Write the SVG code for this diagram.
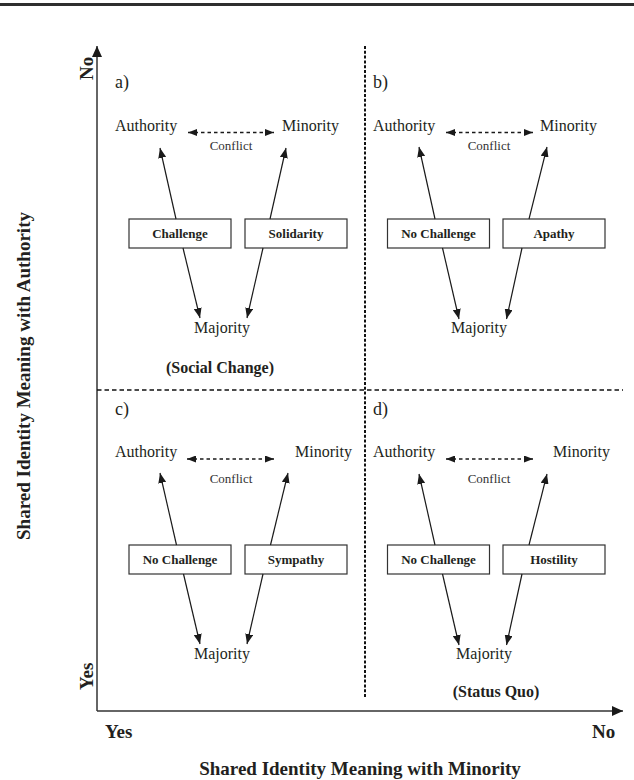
<svg xmlns="http://www.w3.org/2000/svg" width="634" height="780" viewBox="0 0 634 780">
<defs>
<marker id="ah" viewBox="0 0 10 8" refX="10" refY="4" markerWidth="10" markerHeight="8" markerUnits="userSpaceOnUse" orient="auto-start-reverse">
<path d="M0,0 L10,4 L0,8 Z" fill="#1a1a1a"/>
</marker>
<marker id="ahs" viewBox="0 0 9 7" refX="9" refY="3.5" markerWidth="9" markerHeight="7" markerUnits="userSpaceOnUse" orient="auto-start-reverse">
<path d="M0,0 L9,3.5 L0,7 Z" fill="#1a1a1a"/>
</marker>
<marker id="axh" viewBox="0 0 11 10" refX="11" refY="5" markerWidth="11" markerHeight="10" markerUnits="userSpaceOnUse" orient="auto">
<path d="M0,0 L11,5 L0,10 Z" fill="#1a1a1a"/>
</marker>
</defs>
<style>
text { font-family: "Liberation Serif", "Times New Roman", serif; fill: #231f20; }
.lab { font-size: 16px; }
.let { font-size: 18px; }
.con { font-size: 13px; fill: #333; }
.bx { font-size: 13px; font-weight: bold; text-anchor: middle; }
.bold16 { font-size: 16px; font-weight: bold; text-anchor: middle; }
.ax { font-size: 19px; font-weight: bold; }
.mid { text-anchor: middle; }
.box { fill: #fff; stroke: #333; stroke-width: 1.2; }
.arr { stroke: #1a1a1a; stroke-width: 1.2; fill: none; marker-end: url(#ah); }
.cf { stroke: #1a1a1a; stroke-width: 1.3; stroke-dasharray: 3.5 3; fill: none; marker-start: url(#ahs); marker-end: url(#ahs); }
.axis { stroke: #333; stroke-width: 1.5; fill: none; marker-end: url(#axh); }
.div { stroke: #111; fill: none; }
</style>
<rect x="0" y="3" width="634" height="3" fill="#2e2e2e"/>

<g id="axes">
<line class="axis" x1="97" y1="711" x2="97" y2="46"/>
<line class="axis" x1="97" y1="711" x2="623" y2="711"/>
<line class="div" x1="365" y1="46" x2="365" y2="698" stroke-width="2" stroke-dasharray="3 1.8"/>
<line class="div" x1="97" y1="390" x2="623" y2="390" stroke-width="1.5" stroke-dasharray="4.5 3"/>
<text class="ax" transform="translate(93,80) rotate(-90)">No</text>
<text class="ax" transform="translate(93,690) rotate(-90)">Yes</text>
<text class="ax mid" transform="translate(30,376) rotate(-90)">Shared Identity Meaning with Authority</text>
<text class="ax" x="105" y="738">Yes</text>
<text class="ax" x="592" y="738">No</text>
<text class="ax mid" x="360" y="775">Shared Identity Meaning with Minority</text>
</g>

<g id="quad-a">
<text class="let" x="115" y="88">a)</text>
<g id="a-authority"><text class="lab" x="115" y="131">Authority</text></g>
<g id="a-minority"><text class="lab" x="282" y="131">Minority</text></g>
<g id="a-majority"><text class="lab mid" x="222" y="333">Majority</text></g>
<g id="a-challenge"><rect class="box" x="129" y="219" width="102" height="29"/><text class="bx" x="180" y="238">Challenge</text></g>
<g id="a-solidarity"><rect class="box" x="245" y="219" width="102" height="29"/><text class="bx" x="296" y="238">Solidarity</text></g>
<text class="con mid" x="231" y="150">Conflict</text>
<text class="bold16" x="220" y="373">(Social Change)</text>
</g>

<g id="quad-b">
<text class="let" x="373" y="88">b)</text>
<g id="b-authority"><text class="lab" x="373" y="131">Authority</text></g>
<g id="b-minority"><text class="lab" x="540" y="131">Minority</text></g>
<g id="b-majority"><text class="lab mid" x="479" y="333">Majority</text></g>
<g id="b-nochallenge"><rect class="box" x="387.5" y="219" width="102" height="29"/><text class="bx" x="438.5" y="238">No Challenge</text></g>
<g id="b-apathy"><rect class="box" x="503" y="219" width="102" height="29"/><text class="bx" x="554" y="238">Apathy</text></g>
<text class="con mid" x="489" y="150">Conflict</text>
</g>

<g id="quad-c">
<text class="let" x="115" y="415">c)</text>
<g id="c-authority"><text class="lab" x="115" y="457">Authority</text></g>
<g id="c-minority"><text class="lab" x="295" y="457">Minority</text></g>
<g id="c-majority"><text class="lab mid" x="222" y="659">Majority</text></g>
<g id="c-nochallenge"><rect class="box" x="129" y="545" width="102" height="29"/><text class="bx" x="180" y="564">No Challenge</text></g>
<g id="c-sympathy"><rect class="box" x="245" y="545" width="102" height="29"/><text class="bx" x="296" y="564">Sympathy</text></g>
<text class="con mid" x="231" y="483">Conflict</text>
</g>

<g id="quad-d">
<text class="let" x="373" y="415">d)</text>
<g id="d-authority"><text class="lab" x="373" y="457">Authority</text></g>
<g id="d-minority"><text class="lab" x="553" y="457">Minority</text></g>
<g id="d-majority"><text class="lab mid" x="484" y="659">Majority</text></g>
<g id="d-nochallenge"><rect class="box" x="387.5" y="545" width="102" height="29"/><text class="bx" x="438.5" y="564">No Challenge</text></g>
<g id="d-hostility"><rect class="box" x="503" y="545" width="102" height="29"/><text class="bx" x="554" y="564">Hostility</text></g>
<text class="con mid" x="489" y="483">Conflict</text>
<text class="bold16" x="496" y="697">(Status Quo)</text>
</g>

<g id="connectors">
<line class="cf" x1="188" y1="132.5" x2="274" y2="132.5"/>
<line class="arr" x1="176" y1="219" x2="160" y2="148"/>
<line class="arr" x1="270" y1="219" x2="286" y2="148"/>
<line class="arr" x1="183" y1="248" x2="200" y2="318"/>
<line class="arr" x1="263" y1="248" x2="247" y2="318"/>

<line class="cf" x1="446" y1="132.5" x2="533" y2="132.5"/>
<line class="arr" x1="435" y1="219" x2="419" y2="147"/>
<line class="arr" x1="529" y1="219" x2="547" y2="147"/>
<line class="arr" x1="442.5" y1="248" x2="459" y2="319"/>
<line class="arr" x1="522" y1="248" x2="506.5" y2="319"/>

<line class="cf" x1="187" y1="459" x2="274" y2="459"/>
<line class="arr" x1="176.5" y1="545" x2="160" y2="473"/>
<line class="arr" x1="270.5" y1="545" x2="288" y2="473"/>
<line class="arr" x1="183.5" y1="574" x2="200" y2="644"/>
<line class="arr" x1="263" y1="574" x2="247" y2="644"/>

<line class="cf" x1="446" y1="459" x2="533" y2="459"/>
<line class="arr" x1="435" y1="545" x2="419" y2="474"/>
<line class="arr" x1="529" y1="545" x2="547" y2="474"/>
<line class="arr" x1="442.5" y1="574" x2="459" y2="645"/>
<line class="arr" x1="522" y1="574" x2="506.5" y2="645"/>
</g>
</svg>
